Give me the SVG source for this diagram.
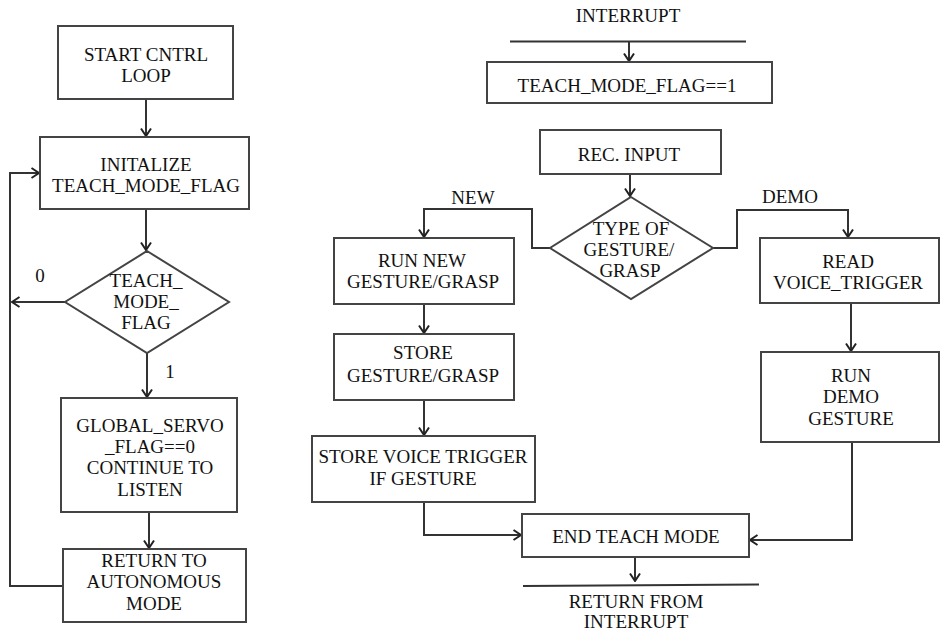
<svg xmlns="http://www.w3.org/2000/svg" width="940" height="634" viewBox="0 0 940 634" font-family="Liberation Serif, DejaVu Serif, serif">
  <style>
    .box { fill: #fff; stroke: #444; stroke-width: 2; }
    .ln { fill: none; stroke: #333; stroke-width: 2; }
    .arr { marker-end: url(#chev); }
    text { font-size: 19px; fill: #111; text-anchor: middle; }
  </style>
  <defs>
    <marker id="chev" viewBox="0 0 10 12" refX="9" refY="6" markerWidth="10" markerHeight="12" markerUnits="userSpaceOnUse" orient="auto">
      <path d="M1.5,1 L9,6 L1.5,11" fill="none" stroke="#222" stroke-width="2"/>
    </marker>
  </defs>

  <rect width="940" height="634" fill="#fff"/>

  <!-- connectors -->
  <g id="connectors">
    <!-- main control loop -->
    <path class="ln arr" d="M146,99 V136"/>
    <path class="ln arr" d="M146,209 V250"/>
    <path class="ln arr" d="M65,302 H12"/>
    <path class="ln arr" d="M147,353 V397"/>
    <path class="ln arr" d="M149,512 V548"/>
    <path class="ln arr" d="M63,586 H10 V173 H39"/>
    <!-- interrupt handler -->
    <path class="ln" d="M510,41.5 H746"/>
    <path class="ln arr" d="M629,42 V61"/>
    <path class="ln arr" d="M630,174 V196"/>
    <path class="ln arr" d="M550,248 H532 V209 H424 V237"/>
    <path class="ln arr" d="M713,248 H737 V210 H848 V237"/>
    <path class="ln arr" d="M424,304 V333"/>
    <path class="ln arr" d="M424,400 V435"/>
    <path class="ln arr" d="M851,303 V351"/>
    <path class="ln arr" d="M424,502 V535 H521"/>
    <path class="ln arr" d="M852,442 V540 H750"/>
    <path class="ln arr" d="M635,557 V581"/>
    <path class="ln" d="M523,586 L759,584.5"/>
  </g>

  <!-- labels on branches -->
  <g id="branch-labels">
    <text x="40" y="282">0</text>
    <text x="170" y="378">1</text>
    <text x="473" y="204">NEW</text>
    <text x="790" y="203">DEMO</text>
    <text x="628" y="22">INTERRUPT</text>
    <text x="636" y="608">RETURN FROM</text>
    <text x="636" y="628">INTERRUPT</text>
  </g>

  <!-- main control loop nodes -->
  <g id="start">
    <rect class="box" x="58" y="26" width="175" height="73"/>
    <text x="146" y="61">START CNTRL</text>
    <text x="146" y="82">LOOP</text>
  </g>
  <g id="init">
    <rect class="box" x="40" y="137" width="209" height="72"/>
    <text x="146" y="171">INITALIZE</text>
    <text x="146" y="192">TEACH_MODE_FLAG</text>
  </g>
  <g id="flag-check">
    <polygon class="box" points="147,251 229,302 147,353 65,302"/>
    <text x="146" y="287">TEACH_</text>
    <text x="146" y="308">MODE_</text>
    <text x="146" y="329">FLAG</text>
  </g>
  <g id="listen">
    <rect class="box" x="61" y="398" width="176" height="114"/>
    <text x="150" y="432">GLOBAL_SERVO</text>
    <text x="150" y="453">_FLAG==0</text>
    <text x="150" y="474">CONTINUE TO</text>
    <text x="150" y="496">LISTEN</text>
  </g>
  <g id="autonomous">
    <rect class="box" x="63" y="549" width="183" height="73"/>
    <text x="154" y="567">RETURN TO</text>
    <text x="154" y="588">AUTONOMOUS</text>
    <text x="154" y="610">MODE</text>
  </g>

  <!-- interrupt handler nodes -->
  <g id="teach-set">
    <rect class="box" x="487" y="62" width="285" height="41"/>
    <text x="627" y="92">TEACH_MODE_FLAG==1</text>
  </g>
  <g id="rec-input">
    <rect class="box" x="540" y="130" width="181" height="44"/>
    <text x="629" y="161">REC. INPUT</text>
  </g>
  <g id="gesture-type">
    <polygon class="box" points="631,197 713,248 631,299 550,248"/>
    <text x="631" y="235">TYPE OF</text>
    <text x="629" y="256">GESTURE/</text>
    <text x="630" y="277">GRASP</text>
  </g>
  <g id="run-new">
    <rect class="box" x="334" y="238" width="180" height="66"/>
    <text x="422" y="267">RUN NEW</text>
    <text x="423" y="288">GESTURE/GRASP</text>
  </g>
  <g id="store-gesture">
    <rect class="box" x="334" y="334" width="180" height="66"/>
    <text x="423" y="359">STORE</text>
    <text x="423" y="382">GESTURE/GRASP</text>
  </g>
  <g id="store-voice">
    <rect class="box" x="312" y="436" width="223" height="66"/>
    <text x="423" y="463">STORE VOICE TRIGGER</text>
    <text x="423" y="485">IF GESTURE</text>
  </g>
  <g id="read-voice">
    <rect class="box" x="760" y="238" width="179" height="65"/>
    <text x="848" y="268">READ</text>
    <text x="848" y="289">VOICE_TRIGGER</text>
  </g>
  <g id="run-demo">
    <rect class="box" x="761" y="352" width="178" height="90"/>
    <text x="851" y="382">RUN</text>
    <text x="851" y="403">DEMO</text>
    <text x="851" y="425">GESTURE</text>
  </g>
  <g id="end-teach">
    <rect class="box" x="522" y="514" width="227" height="43"/>
    <text x="636" y="543">END TEACH MODE</text>
  </g>
</svg>
